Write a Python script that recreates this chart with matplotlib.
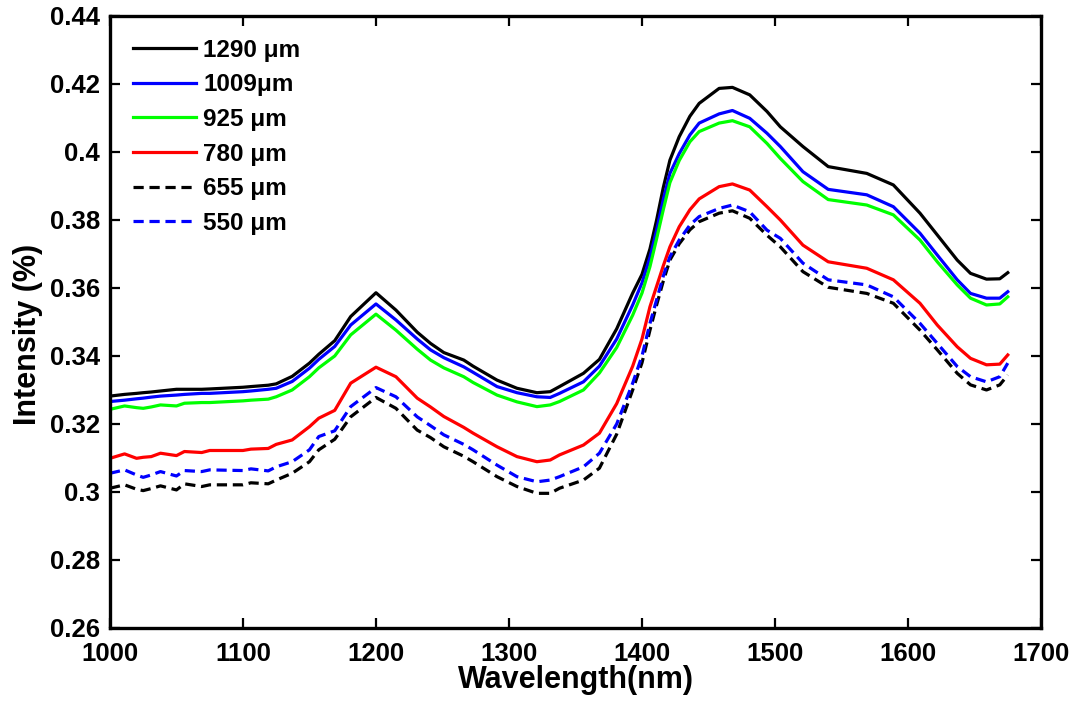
import numpy as np
import matplotlib
matplotlib.use('Agg')
import matplotlib.pyplot as plt

plt.rcParams['font.family'] = ['Liberation Sans', 'DejaVu Sans']
plt.rcParams['font.weight'] = 'bold'

wavelength = [1000, 1011, 1020, 1025, 1031, 1038, 1050, 1056, 1069, 1075, 1100, 1106, 1119, 1125, 1137,
              1150, 1157, 1169, 1181, 1200, 1215, 1231, 1241, 1251, 1266, 1273, 1291, 1306, 1321, 1331,
              1338, 1356, 1368, 1381, 1393, 1400, 1406, 1411, 1416, 1421, 1428, 1436, 1443, 1458, 1468,
              1481, 1494, 1504, 1521, 1540, 1569, 1589, 1609, 1622, 1637, 1647, 1659, 1669, 1675]

i_1290 = [0.3282, 0.3287, 0.3290, 0.3292, 0.3294, 0.3297, 0.3302, 0.3302, 0.3302, 0.3303, 0.3308, 0.3310, 0.3314, 0.3318, 0.3340,
          0.3379, 0.3405, 0.3445, 0.3516, 0.3586, 0.3535, 0.3470, 0.3437, 0.3410, 0.3388, 0.3370, 0.3329, 0.3305, 0.3292, 0.3295,
          0.3310, 0.3349, 0.3390, 0.3480, 0.3585, 0.3640, 0.3715, 0.3800, 0.3895, 0.3976, 0.4045, 0.4105, 0.4143, 0.4187, 0.4190,
          0.4168, 0.4119, 0.4074, 0.4016, 0.3957, 0.3937, 0.3903, 0.3820, 0.3756, 0.3682, 0.3643, 0.3626, 0.3627, 0.3645]

i_1009 = [0.3266, 0.3270, 0.3274, 0.3276, 0.3279, 0.3282, 0.3285, 0.3287, 0.3290, 0.3290, 0.3295, 0.3297, 0.3302, 0.3305, 0.3325,
          0.3364, 0.3390, 0.3428, 0.3491, 0.3553, 0.3506, 0.3450, 0.3418, 0.3395, 0.3368, 0.3352, 0.3310, 0.3292, 0.3280, 0.3278,
          0.3290, 0.3324, 0.3370, 0.3450, 0.3550, 0.3615, 0.3690, 0.3770, 0.3860, 0.3937, 0.3995, 0.4050, 0.4085, 0.4112, 0.4122,
          0.4099, 0.4055, 0.4016, 0.3942, 0.3890, 0.3874, 0.3839, 0.3761, 0.3697, 0.3624, 0.3584, 0.3570, 0.3570, 0.3589]

i_925 = [0.3243, 0.3253, 0.3248, 0.3246, 0.3250, 0.3256, 0.3253, 0.3261, 0.3263, 0.3263, 0.3268, 0.3270, 0.3273, 0.3280, 0.3300,
         0.3339, 0.3365, 0.3400, 0.3462, 0.3523, 0.3476, 0.3420, 0.3388, 0.3365, 0.3339, 0.3322, 0.3285, 0.3265, 0.3251, 0.3256,
         0.3266, 0.3300, 0.3350, 0.3425, 0.3520, 0.3585, 0.3663, 0.3745, 0.3830, 0.3910, 0.3975, 0.4030, 0.4060, 0.4085, 0.4092,
         0.4074, 0.4025, 0.3981, 0.3913, 0.3860, 0.3844, 0.3815, 0.3741, 0.3677, 0.3609, 0.3570, 0.3550, 0.3553, 0.3574]

i_780 = [0.3099, 0.3112, 0.3099, 0.3102, 0.3104, 0.3114, 0.3107, 0.3119, 0.3116, 0.3122, 0.3122, 0.3126, 0.3128, 0.3140, 0.3153,
         0.3192, 0.3217, 0.3240, 0.3320, 0.3367, 0.3339, 0.3276, 0.3250, 0.3222, 0.3190, 0.3173, 0.3133, 0.3104, 0.3089, 0.3094,
         0.3109, 0.3138, 0.3173, 0.3260, 0.3370, 0.3450, 0.3545, 0.3605, 0.3665, 0.3721, 0.3780, 0.3830, 0.3862, 0.3898, 0.3906,
         0.3888, 0.3839, 0.3800, 0.3726, 0.3677, 0.3658, 0.3624, 0.3555, 0.3491, 0.3427, 0.3393, 0.3374, 0.3376, 0.3403]

i_655 = [0.3011, 0.3021, 0.3008, 0.3004, 0.3010, 0.3018, 0.3006, 0.3024, 0.3016, 0.3021, 0.3021, 0.3027, 0.3024, 0.3035, 0.3055,
         0.3089, 0.3124, 0.3155, 0.3221, 0.3278, 0.3246, 0.3182, 0.3160, 0.3133, 0.3105, 0.3089, 0.3045, 0.3016, 0.2996, 0.2996,
         0.3011, 0.3035, 0.3070, 0.3170, 0.3300, 0.3380, 0.3476, 0.3550, 0.3620, 0.3682, 0.3730, 0.3771, 0.3795, 0.3820, 0.3827,
         0.3805, 0.3755, 0.3721, 0.3648, 0.3602, 0.3584, 0.3555, 0.3476, 0.3418, 0.3349, 0.3315, 0.3300, 0.3315, 0.3344]

i_550 = [0.3055, 0.3065, 0.3050, 0.3043, 0.3050, 0.3060, 0.3047, 0.3063, 0.3060, 0.3065, 0.3063, 0.3068, 0.3062, 0.3074, 0.3089,
         0.3124, 0.3163, 0.3180, 0.3251, 0.3307, 0.3280, 0.3221, 0.3195, 0.3168, 0.3140, 0.3124, 0.3079, 0.3045, 0.3030, 0.3035,
         0.3045, 0.3074, 0.3114, 0.3200, 0.3320, 0.3400, 0.3496, 0.3565, 0.3635, 0.3692, 0.3741, 0.3785, 0.3810, 0.3834, 0.3844,
         0.3824, 0.3770, 0.3746, 0.3673, 0.3624, 0.3609, 0.3574, 0.3496, 0.3437, 0.3369, 0.3339, 0.3324, 0.3339, 0.3379]

labels = ['1290 \u03bcm', '1009\u03bcm', '925 \u03bcm', '780 \u03bcm', '655 \u03bcm', '550 \u03bcm']

fig = plt.figure(figsize=(10.79, 7.04), dpi=100)
ax = fig.add_axes([0.1019, 0.108, 0.8629, 0.8693])

lw = 2.3
dash = (0, (3.2, 1.8))
ax.plot(wavelength, i_1290, color='black', lw=lw, label=labels[0])
ax.plot(wavelength, i_1009, color='#0000ff', lw=lw, label=labels[1])
ax.plot(wavelength, i_925, color='#00ff00', lw=lw, label=labels[2])
ax.plot(wavelength, i_780, color='#ff0000', lw=lw, label=labels[3])
ax.plot(wavelength, i_655, color='black', lw=lw, ls=dash, label=labels[4])
ax.plot(wavelength, i_550, color='#0000ff', lw=lw, ls=dash, label=labels[5])

ax.set_xlim(1000, 1700)
ax.set_ylim(0.26, 0.44)
ax.set_xticks(np.arange(1000, 1701, 100))
ax.set_yticks(np.arange(0.26, 0.4401, 0.02))
ax.set_yticklabels(['0.26', '0.28', '0.3', '0.32', '0.34', '0.36', '0.38', '0.4', '0.42', '0.44'])

ax.tick_params(direction='in', length=7, width=1.6, top=True, right=True,
               labelsize=18.5, pad=7)
ax.tick_params(axis='x', pad=10)
for sp in ax.spines.values():
    sp.set_linewidth(2.4)

ax.set_xlabel('Wavelength(nm)', fontsize=22, fontweight='bold')
ax.set_ylabel('Intensity (%)', fontsize=22, fontweight='bold')
ax.xaxis.set_label_coords(0.5, -0.06)
ax.yaxis.set_label_coords(-0.072, 0.48)

ax.legend(loc='upper left', bbox_to_anchor=(0.0247, 0.963), frameon=False,
          fontsize=17.5, handlelength=2.6, handletextpad=0.3, labelspacing=0.48,
          borderpad=0, borderaxespad=0)

fig.savefig('out.png', dpi=100)
